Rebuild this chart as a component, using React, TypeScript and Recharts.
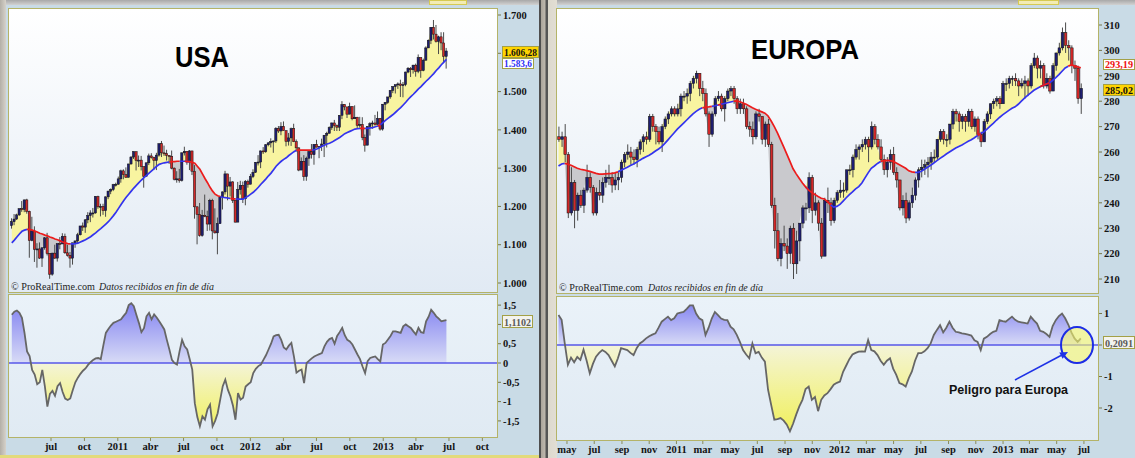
import React from 'react';
import { ComposedChart, Bar, Line, Area, XAxis, YAxis, ReferenceLine } from 'recharts';

// ---------------- USA (S&P 500, weekly, from week of 15 Mar 2010) ----------------
const usO = [1150,1160,1167,1178,1194,1192,1217,1187,1111,1136,1088,1089,1065,1092,1118,1077,1023,1078,1065,1103,1102,1122,1079,1072,1065,1105,1110,1126,1149,1146,1165,1176,1183,1183,1226,1199,1200,1189,1225,1240,1244,1257,
1258,1272,1293,1283,1276,1311,1329,1343,1320,1321,1304,1279,1314,1332,1328,1320,1334,1364,1340,1338,1333,1331,1300,1271,1272,1268,1340,1344,1316,1345,1292,1199,1179,1124,1177,1174,1154,1216,1136,1131,1155,1225,1238,1285,1253,1264,1216,1159,1244,1255,1220,1265,
1258,1278,1289,1315,1316,1345,1343,1361,1366,1370,1371,1404,1397,1409,1398,1370,1379,1403,1369,1353,1295,1318,1278,1326,1343,1335,1362,1355,1357,1363,1386,1391,1406,1418,1411,1407,1438,1466,1460,1441,1461,1429,1433,1412,1414,1380,1360,1409,1416,1418,1414,1430,
1402,1467,1472,1486,1503,1513,1518,1520,1516,1518,1551,1561,1557,1569,1553,1589,1555,1582,1614,1634,1668,1650,1631,1643,1627,1592];
const usH = [1169,1180,1181,1195,1214,1218,1220,1189,1173,1148,1104,1106,1093,1120,1131,1078,1079,1100,1103,1120,1130,1129,1100,1081,1105,1110,1131,1149,1158,1167,1185,1190,1196,1227,1228,1207,1207,1226,1241,1247,1259,1262,
1278,1296,1297,1302,1311,1331,1344,1343,1333,1332,1304,1314,1338,1339,1330,1340,1364,1371,1359,1348,1334,1346,1302,1292,1298,1341,1356,1344,1347,1345,1308,1200,1209,1191,1231,1189,1220,1220,1195,1171,1226,1239,1293,1285,1277,1266,1216,1264,1267,1265,1269,1270,
1285,1297,1316,1334,1346,1355,1363,1368,1378,1372,1407,1410,1420,1422,1398,1392,1406,1416,1375,1354,1328,1334,1330,1345,1363,1363,1374,1357,1377,1386,1395,1409,1419,1426,1414,1438,1475,1467,1460,1471,1461,1464,1434,1434,1433,1388,1409,1420,1424,1439,1448,1431,
1467,1472,1486,1503,1514,1518,1524,1531,1525,1552,1564,1564,1570,1573,1597,1589,1586,1618,1636,1668,1687,1674,1646,1655,1655,1614];
const usL = [1142,1151,1165,1175,1186,1185,1181,1066,1109,1055,1040,1063,1042,1087,1072,1011,1019,1063,1056,1088,1102,1076,1069,1040,1048,1092,1104,1124,1136,1131,1156,1159,1171,1181,1194,1174,1178,1173,1219,1232,1240,1252,
1257,1262,1271,1275,1276,1309,1324,1294,1303,1294,1249,1278,1308,1325,1295,1295,1330,1329,1332,1320,1311,1297,1268,1262,1262,1265,1333,1309,1295,1282,1168,1101,1121,1121,1172,1136,1137,1114,1129,1075,1155,1192,1231,1216,1226,1209,1158,1159,1231,1209,1203,1249,
1258,1274,1288,1307,1300,1337,1340,1357,1354,1340,1366,1392,1386,1398,1357,1359,1358,1368,1343,1292,1295,1267,1267,1306,1325,1309,1354,1326,1345,1329,1354,1391,1400,1397,1397,1397,1428,1451,1431,1441,1425,1429,1403,1406,1373,1343,1360,1385,1403,1411,1414,1398,
1398,1451,1468,1481,1496,1495,1507,1486,1485,1514,1548,1538,1547,1539,1548,1536,1553,1581,1614,1624,1636,1628,1598,1608,1577,1560];
const usC = [1160,1167,1178,1194,1192,1217,1187,1111,1136,1088,1089,1065,1092,1118,1077,1023,1078,1065,1103,1102,1122,1079,1072,1065,1105,1110,1126,1149,1146,1165,1176,1183,1183,1226,1199,1200,1189,1225,1240,1244,1257,1258,
1272,1293,1283,1276,1311,1329,1343,1320,1321,1304,1279,1314,1332,1328,1320,1334,1364,1340,1338,1333,1331,1300,1271,1272,1268,1340,1344,1316,1345,1292,1199,1179,1124,1177,1174,1154,1216,1136,1131,1155,1225,1238,1285,1253,1264,1216,1159,1244,1255,1220,1265,1258,
1278,1289,1315,1316,1345,1343,1361,1366,1370,1371,1404,1397,1409,1398,1370,1379,1403,1369,1353,1295,1318,1278,1326,1343,1335,1362,1355,1357,1363,1386,1391,1406,1418,1411,1407,1438,1466,1460,1441,1461,1429,1433,1412,1414,1380,1360,1409,1416,1418,1414,1430,1402,
1467,1472,1486,1503,1513,1518,1520,1516,1518,1551,1561,1557,1569,1553,1589,1555,1582,1614,1634,1668,1650,1631,1643,1627,1592,1606];
const usMA = [1105,1112,1120,1128,1135,1138,1140,1140,1138,1136,
1133,1130,1128,1125,1123,1120,1118,1115,1113,1110,
1107,1105,1103,1102,1102,1103,1104,1107,1110,1113,
1117,1121,1126,1131,1137,1142,1148,1154,1160,1168,
1176,1185,1195,1205,1215,1224,1232,1240,1248,1255,
1262,1269,1275,1281,1287,1293,1299,1305,1310,1312,
1314,1315,1316,1317,1317,1318,1318,1318,1318,1317,
1317,1315,1313,1305,1297,1285,1273,1262,1250,1240,
1232,1228,1226,1224,1223,1222,1221,1220,1220,1219,
1219,1219,1223,1227,1232,1237,1243,1250,1258,1265,
1272,1280,1287,1296,1305,1312,1318,1323,1327,1333,
1338,1343,1347,1347,1347,1347,1347,1347,1347,1348,
1350,1353,1357,1360,1363,1365,1368,1372,1376,1380,
1385,1390,1393,1396,1399,1402,1403,1404,1404,1404,
1404,1405,1406,1408,1410,1413,1419,1425,1430,1435,
1440,1446,1452,1458,1465,1472,1480,1487,1493,1500,
1507,1513,1520,1527,1533,1540,1547,1555,1562,1570,
1577,1584];
const usOsc = [1.25,1.33,1.36,1.3,1.17,0.78,0.3,0.18,-0.18,-0.3,
-0.55,-0.5,-0.18,-0.6,-1.13,-0.8,-0.72,-0.85,-0.6,-0.52,
-0.75,-0.92,-0.96,-0.92,-0.7,-0.5,-0.38,-0.28,-0.2,-0.14,
-0.05,0.02,0.08,0.12,0.13,0.1,0.45,0.78,0.88,0.97,
1.04,1.07,1.1,1.13,1.22,1.3,1.5,1.55,1.47,1.25,
1.04,0.8,0.9,1.21,1.3,1.13,1.26,1.18,1.08,0.98,
0.87,0.6,0.35,0.08,0,-0.04,0.3,0.6,0.43,0.35,
0.1,-0.17,-1.04,-1.4,-1.64,-1.38,-1.47,-1.2,-1.08,-1.64,
-1.5,-1.3,-0.95,-0.6,-0.43,-0.69,-0.86,-1.1,-1.47,-0.78,
-0.95,-0.9,-0.61,-0.55,-0.5,-0.26,-0.15,-0.08,-0.04,0.08,
0.2,0.35,0.5,0.69,0.72,0.73,0.6,0.4,0.35,0.45,
0.52,0.17,-0.25,-0.2,-0.17,-0.52,0,0.06,0.12,0.17,
0.2,0.23,0.26,0.43,0.55,0.62,0.65,0.5,0.7,0.8,
0.91,0.72,0.6,0.56,0.48,0.35,0.22,0.1,-0.09,-0.26,
0.05,0.13,0.15,0.17,0.1,0.04,0.48,0.52,0.61,0.7,
0.82,0.82,0.8,0.78,0.95,1.0,0.95,0.91,0.82,0.74,
0.91,0.8,0.78,1.08,1.2,1.38,1.3,1.21,1.15,1.08,
1.1,1.1102];
const usTickIdx = [15.43,28.57,41.71,54.57,67.57,80.71,93.86,106.86,119.86,133.0,146.14,159.0,172.0,185.14];
const usTickLbl = ['jul','oct','2011','abr','jul','oct','2012','abr','jul','oct','2013','abr','jul','oct'];
const usPriceTicks = [1000,1100,1200,1300,1400,1500,1600,1700];
const usOscTicks = [-1.5,-1,-0.5,0,0.5,1,1.5];

// ---------------- EUROPA (weekly, from week of 12 Apr 2010) ----------------
const euO = [266,265,266,259,236,248,237,243,239,245,
250,246,236,244,243,248,250,250,247,249,
250,256,259,260,258,257,261,264,266,265,
274,270,268,264,270,273,275,277,
275,277,282,282,283,287,289,291,285,283,
275,267,275,281,282,277,281,284,285,281,
277,279,277,270,269,266,275,274,265,271,
263,239,229,218,224,223,220,230,216,225,
232,238,238,250,237,240,232,219,241,240,233,241,
244,245,245,253,253,258,261,262,263,265,
262,270,265,262,257,253,256,259,252,249,
238,241,234,240,243,249,253,254,255,256,
258,258,265,268,265,265,271,276,275,272,
274,272,276,270,273,267,264,272,275,279,280,281,
279,287,287,289,289,288,286,287,288,286,
294,297,293,294,286,289,284,294,299,301,
307,302,301,294,293,281];
const euH = [270,268,271,260,254,249,244,245,246,255,
252,247,246,249,250,253,255,252,252,252,
257,260,263,262,261,262,265,267,268,275,
275,271,270,271,274,276,278,278,
279,283,284,285,288,290,292,291,288,285,
276,276,282,284,283,282,285,286,286,282,
281,281,278,272,272,276,277,274,272,273,
264,242,236,226,231,226,231,232,229,232,
239,240,252,251,244,241,234,242,246,242,242,245,
249,248,253,255,259,263,263,265,266,266,
272,271,267,265,259,258,261,262,254,249,
243,244,241,246,250,254,257,257,258,260,
261,265,269,269,267,271,277,277,276,275,
275,277,277,274,274,268,273,276,279,281,282,282,
288,289,290,290,291,289,289,290,289,295,
299,298,296,295,291,290,295,299,303,309,
311,304,302,296,294,287];
const euL = [264,262,256,234,235,230,233,238,236,244,
244,235,235,241,240,246,247,244,245,245,
248,254,257,255,255,254,259,260,263,264,
268,263,263,260,269,271,274,274,
274,274,280,279,280,285,287,282,280,274,
262,266,274,280,276,272,280,282,279,275,
275,275,269,266,263,265,272,263,262,262,
238,222,217,215,221,214,216,210,212,217,
230,233,236,232,235,229,218,219,236,231,232,240,
242,242,244,251,250,257,257,260,261,256,
261,263,261,256,251,250,253,251,246,237,
235,232,233,238,241,246,250,251,250,253,
256,257,264,263,262,263,269,272,268,269,
268,270,269,268,265,262,264,271,273,277,278,277,
279,284,285,286,286,282,285,281,282,285,
293,289,289,285,285,283,284,292,298,300,
299,296,291,288,279,275];
const euC = [265,266,259,236,248,237,243,239,245,250,
246,236,244,243,248,250,250,247,249,250,
256,259,260,258,257,261,264,266,265,274,
270,268,264,270,273,275,277,275,
277,282,282,283,287,289,291,285,283,275,
267,275,281,282,277,281,284,285,281,277,
279,277,270,269,266,275,274,265,271,263,
239,229,218,224,223,220,230,216,225,232,
238,238,250,237,240,232,219,241,240,233,241,244,
245,245,253,253,258,261,262,263,265,262,
270,265,262,257,253,256,259,252,249,238,
241,234,240,243,249,253,254,255,256,258,
258,265,268,265,265,271,276,275,272,274,
272,276,270,273,267,264,272,275,279,280,281,279,
287,287,289,289,288,286,287,288,286,294,
297,293,294,286,289,284,294,299,301,307,
302,301,294,293,281,285.02];
const euMA = [254.5,255.3,255.5,255.2,254.8,254.2,253.6,253.2,253,252.7,
252.4,252,251.6,251.3,251.3,251.4,251.5,251.6,251.8,252.2,
252.8,253.4,254,254.7,255.3,256,256.8,257.5,258.1,258.7,
259.5,260.4,261.2,262.1,263.4,264.8,266.2,267.6,
269,270.2,271.4,272.6,273.8,275,276,276.8,277.4,277.7,
277.8,278,278.2,278.5,278.8,279.1,279.4,279.7,280,280.1,
279.8,279.3,278.8,278.1,277.4,276.8,276.3,275.8,275.3,274.2,
272.2,270,267.5,264.8,262,259.2,256.3,253.4,251.4,249.6,
247.8,246.3,245,244,243.3,242.5,241.8,241.5,240.5,239.2,238.3,238.6,
239.4,240.7,242,243.2,244.3,245.5,246.4,247.8,249.8,251.8,
253.6,254.5,255.5,256.3,256.6,256.7,256.6,256.3,255.7,255,
254.3,253.6,252.6,252.2,252,252,252.4,253.2,254,254.8,
255.7,256.6,257.5,258.3,259.2,260,260.8,261.6,262.2,262.8,
263.5,264.2,264.8,265.6,266.5,267.3,268,269,270.2,271.3,272.5,273.6,
274.6,275.5,276.4,277.2,277.8,278.8,280,281.2,282.3,283.3,
284.3,285,285.7,286.3,286.8,287.2,288.2,289.3,290.5,291.8,
293.1,293.8,294.3,293.9,293.5,293.19];
const euOsc = [0.95,0.8,0.05,-0.63,-0.4,-0.55,-0.38,-0.47,-0.15,-0.5,
-0.9,-0.6,-0.37,-0.25,-0.16,-0.22,-0.32,-0.5,-0.68,-0.42,
-0.1,-0.13,-0.16,-0.25,-0.32,-0.1,0.05,0.12,0.21,0.28,
0.33,0.37,0.55,0.74,0.82,0.9,0.79,0.85,1.0,1.03,
1.05,1.15,1.26,1.26,1.0,0.85,0.79,0.32,0.55,0.84,
1.05,0.95,0.84,0.8,0.79,0.58,0.5,0.32,0.1,-0.16,
-0.3,-0.42,0.05,-0.26,-0.22,-0.4,-0.53,-1.42,-1.9,-2.37,
-2.35,-2.32,-2.4,-2.53,-2.74,-2.5,-2.21,-1.95,-1.74,-1.4,
-1.32,-1.74,-1.65,-2.1,-1.74,-1.6,-1.53,-1.4,-1.26,-1.2,
-1.16,-0.85,-0.65,-0.45,-0.3,-0.25,-0.21,-0.2,-0.21,0.16,
-0.16,-0.2,-0.32,-0.5,-0.63,-0.5,-0.42,-0.75,-0.95,-1.21,
-1.25,-1.32,-1.05,-0.84,-0.5,-0.26,-0.26,-0.2,-0.1,0.05,
0.32,0.48,0.63,0.4,0.55,0.74,0.55,0.42,0.4,0.37,
0.35,0.33,0.3,0.15,0.1,-0.16,0.2,0.26,0.35,0.42,
0.45,0.79,0.76,0.74,0.82,0.9,0.8,0.74,0.72,0.7,
0.68,0.9,0.78,0.68,0.45,0.42,0.35,0.26,0.6,0.79,
0.92,1.0,0.85,0.65,0.4,0.21,0.1,0.2091];
const euTickIdx = [2.71,11.43,20.29,29.0,37.71,46.14,54.86,63.57,72.43,81.14,89.86,98.43,107.14,115.86,124.71,133.43,142.14,150.57,159.29,168.0];
const euTickLbl = ['may','jul','sep','nov','2011','mar','may','jul','sep','nov','2012','mar','may','jul','sep','nov','2013','mar','may','jul'];
const euPriceTicks = [210,220,230,240,250,260,270,280,290,300,310];
const euOscTicks = [-2,-1,0,1];

// tick labels that the value boxes cover completely in the original
const usHiddenPrice = [1600];
const usHiddenOsc = [1];
const euHiddenOsc = [0];

// ---------------- helpers ----------------
const SERIF = '"Liberation Serif", "Times New Roman", serif';
const SANS = '"Liberation Sans", Arial, sans-serif';
const TICK = { fill: '#141414', fontSize: 10.5, fontFamily: SERIF, fontWeight: 700 };

function priceRows(O: number[], H: number[], L: number[], C: number[], MA: number[]) {
  const up = C.map((c, i) => c >= MA[i]);
  const n = C.length;
  return C.map((c, i) => {
    const ma = MA[i];
    const nextUp = i + 1 < n ? up[i + 1] : up[i];
    return {
      i, o: O[i], h: H[i], l: L[i], c, ma,
      hl: [L[i], H[i]],
      yel: up[i] ? [ma, c] : [ma, ma],
      gry: up[i] ? [ma, ma] : [c, ma],
      maB: up[i] || nextUp ? ma : null,
      maR: !up[i] || !nextUp ? ma : null,
    };
  });
}
function oscRows(V: number[]) {
  return V.map((v, i) => ({ i, v, p: v > 0 ? v : 0, n: v < 0 ? v : 0 }));
}

function makeCandle(bodyW: number) {
  return (props: any) => {
    const { x, y, width, height, payload } = props;
    if (x == null || y == null || !payload) return <g />;
    const cx = x + width / 2;
    const top = Math.min(y, y + height);
    const bot = Math.max(y, y + height);
    const { o, h, l, c } = payload;
    const span = h - l || 1;
    const py = (v: number) => top + ((h - v) / span) * (bot - top);
    const yO = py(o), yC = py(c);
    const bTop = Math.min(yO, yC);
    const bH = Math.max(Math.abs(yC - yO), 1);
    return (
      <g>
        <line x1={cx} x2={cx} y1={top} y2={bot} stroke="#4a4a4a" strokeWidth={1} />
        <rect x={cx - bodyW / 2} y={bTop} width={bodyW} height={bH}
          fill={c >= o ? '#1e1e72' : '#d22828'} stroke="#111" strokeWidth={0.5} />
      </g>
    );
  };
}

function PriceChart(p: any) {
  return (
    <ComposedChart width={p.width} height={p.height} data={p.rows} margin={p.margin}>
      <XAxis type="number" dataKey="i" domain={p.xDomain} hide allowDataOverflow />
      <YAxis orientation="right" type="number" domain={p.yDomain} ticks={p.yTicks} interval={0}
        allowDataOverflow width={p.yAxisW} axisLine={false} tickLine={{ stroke: '#77774a' }}
        tickSize={4} tickMargin={2} tick={TICK} tickFormatter={p.yFmt} />
      <Area dataKey="yel" type="linear" stroke="none" fill="#f8f4a0" fillOpacity={1} isAnimationActive={false} />
      <Area dataKey="gry" type="linear" stroke="none" fill="#c9c9cd" fillOpacity={1} isAnimationActive={false} />
      <Line dataKey="maB" type="linear" stroke="#3434ee" strokeWidth={1.7} dot={false} connectNulls={false} isAnimationActive={false} />
      <Line dataKey="maR" type="linear" stroke="#ec1c1c" strokeWidth={1.7} dot={false} connectNulls={false} isAnimationActive={false} />
      <Bar dataKey="hl" barSize={2} shape={makeCandle(p.bodyW)} isAnimationActive={false} />
    </ComposedChart>
  );
}

function OscChart(p: any) {
  return (
    <ComposedChart width={p.width} height={p.height} data={p.rows} margin={p.margin}>
      <defs>
        <linearGradient id={p.gid + 'p'} gradientUnits="userSpaceOnUse" x1="0" y1={p.topY} x2="0" y2={p.zeroY}>
          <stop offset="0" stopColor="#7676f0" />
          <stop offset="1" stopColor="#d8dbf6" />
        </linearGradient>
        <linearGradient id={p.gid + 'n'} gradientUnits="userSpaceOnUse" x1="0" y1={p.zeroY} x2="0" y2={p.botY}>
          <stop offset="0" stopColor="#f4f4d8" />
          <stop offset="1" stopColor="#f0f050" />
        </linearGradient>
      </defs>
      <XAxis type="number" dataKey="i" domain={p.xDomain} ticks={p.xTicks} interval={0} allowDataOverflow
        height={p.xAxisH} axisLine={false} tickLine={{ stroke: '#8a8a5a' }} tickSize={4} tickMargin={2}
        tick={TICK} tickFormatter={(v: number) => p.xLabels[p.xTicks.indexOf(v)] ?? ''} />
      <YAxis orientation="right" type="number" domain={p.yDomain} ticks={p.yTicks} interval={0}
        allowDataOverflow width={p.yAxisW} axisLine={false} tickLine={{ stroke: '#77774a' }}
        tickSize={4} tickMargin={2} tick={TICK}
        tickFormatter={(v: number) => (p.hidden.includes(v) ? '' : String(v).replace('.', ','))} />
      <Area dataKey="p" type="linear" baseValue={0} stroke="none" fill={`url(#${p.gid}p)`} fillOpacity={1} isAnimationActive={false} />
      <Area dataKey="n" type="linear" baseValue={0} stroke="none" fill={`url(#${p.gid}n)`} fillOpacity={1} isAnimationActive={false} />
      <ReferenceLine y={0} stroke="#5757e8" strokeWidth={1.3} />
      <Line dataKey="v" type="linear" stroke="#666666" strokeWidth={1.8} dot={false} isAnimationActive={false} />
    </ComposedChart>
  );
}

const abs = (l: number, t: number, w: number, h: number, extra: any = {}) =>
  ({ position: 'absolute' as const, left: l, top: t, width: w, height: h, ...extra });

function ValBox({ x, y, w, h, bg, color, text, fs = 10.5 }: any) {
  return (
    <g>
      <rect x={x + 0.5} y={y + 0.5} width={w} height={h} fill={bg} stroke="#a3a046" strokeWidth={1} />
      <text x={x + 2} y={y + h - 1.5} fontSize={fs} fontWeight={700} fontFamily={SERIF} fill={color}
        textLength={w - 3} lengthAdjust="spacingAndGlyphs">{text}</text>
    </g>
  );
}

export default function App() {
  const usRows = priceRows(usO, usH, usL, usC, usMA);
  const euRows = priceRows(euO, euH, euL, euC, euMA);
  const usORows = oscRows(usOsc);
  const euORows = oscRows(euOsc);
  const BORDER = '1px solid #b4b368';
  return (
    <div style={{ position: 'fixed', left: 0, top: 0, width: 1135, height: 458, overflow: 'hidden', background: '#c9dbe6' }}>
      {/* frame decoration */}
      <div style={abs(0, 0, 1135, 5, { background: 'linear-gradient(#a8a8a8,#d2d2d2)' })} />
      <div style={abs(0, 0, 6, 458, { background: 'linear-gradient(90deg,#b3afa7,#d6d2ca)' })} />
      <div style={abs(0, 455, 539, 3, { background: '#e2da7c' })} />
      <div style={abs(539, 0, 18, 458, { background: 'linear-gradient(90deg,#4e4e4e 0,#4e4e4e 2px,#aaa49a 2px,#bdb7ad 6px,#555 7px,#555 9px,#ddd9ce 9px,#e2ded4 18px)' })} />
      {/* plot backgrounds */}
      <div style={abs(9, 9, 488, 283, { background: 'linear-gradient(#ffffff,#e1eaf4)' })} />
      <div style={abs(9, 295, 488, 142, { background: 'linear-gradient(#eaf2f9,#e0eaf3)' })} />
      <div style={abs(557, 9, 541, 284, { background: 'linear-gradient(#ffffff,#e1eaf4)' })} />
      <div style={abs(557, 297, 541, 143, { background: 'linear-gradient(#eaf2f9,#e0eaf3)' })} />

      <div style={abs(0, 0, 540, 294)}>
        <PriceChart rows={usRows} width={540} height={294} margin={{ top: 9, right: 3, bottom: 2, left: 9 }}
          xDomain={[-1.1, 190.9]} yDomain={[976.5, 1715.7]} yTicks={usPriceTicks} yAxisW={40}
          yFmt={(v: number) => (usHiddenPrice.includes(v) ? '' : (v / 1000).toFixed(3))} bodyW={2.2} />
      </div>
      <div style={abs(0, 293, 540, 165)}>
        <OscChart rows={usORows} width={540} height={165} margin={{ top: 2, right: 3, bottom: 0, left: 9 }}
          xDomain={[-1.1, 190.9]} xTicks={usTickIdx} xLabels={usTickLbl} xAxisH={21} hidden={usHiddenOsc}
          yDomain={[-1.917, 1.762]} yTicks={usOscTicks} yAxisW={40} gid="usg" topY={2} zeroY={70} botY={144} />
      </div>
      <div style={abs(550, 0, 585, 295)}>
        <PriceChart rows={euRows} width={585} height={295} margin={{ top: 9, right: 2, bottom: 2, left: 7 }}
          xDomain={[-0.48, 172.5]} yDomain={[204.5, 316.3]} yTicks={euPriceTicks} yAxisW={35}
          yFmt={(v: number) => String(v)} bodyW={2.6} />
      </div>
      <div style={abs(550, 295, 585, 163)}>
        <OscChart rows={euORows} width={585} height={163} margin={{ top: 2, right: 2, bottom: 0, left: 7 }}
          xDomain={[-0.48, 172.5]} xTicks={euTickIdx} xLabels={euTickLbl} xAxisH={18} hidden={euHiddenOsc}
          yDomain={[-3.016, 1.524]} yTicks={euOscTicks} yAxisW={35} gid="eug" topY={2} zeroY={50} botY={145} />
      </div>

      {/* plot borders */}
      <div style={abs(8, 8, 490, 285, { border: BORDER, boxSizing: 'border-box' })} />
      <div style={abs(8, 294, 490, 144, { border: BORDER, boxSizing: 'border-box' })} />
      <div style={abs(556, 8, 543, 286, { border: BORDER, boxSizing: 'border-box' })} />
      <div style={abs(556, 296, 543, 145, { border: BORDER, boxSizing: 'border-box' })} />

      <svg width={1135} height={458} style={{ position: 'absolute', left: 0, top: 0, pointerEvents: 'none' }}>
        <rect x={429.5} y={0.5} width={37} height={4} fill="#f2ecb4" stroke="#d6ca52" />
        <rect x={1018.5} y={0.5} width={40} height={4} fill="#f2ecb4" stroke="#d6ca52" />

        <text x={175} y={67} fontSize={30} fontWeight={700} fontFamily={SANS} fill="#000" textLength={54} lengthAdjust="spacingAndGlyphs">USA</text>
        <text x={751} y={59} fontSize={28} fontWeight={700} fontFamily={SANS} fill="#000" textLength={108} lengthAdjust="spacingAndGlyphs">EUROPA</text>

        <text x={11} y={290} fontSize={11} fontFamily={SERIF} fill="#1e1e1e" textLength={84} lengthAdjust="spacingAndGlyphs">© ProRealTime.com</text>
        <text x={99} y={290} fontSize={11} fontFamily={SERIF} fontStyle="italic" fill="#1e1e1e" textLength={115} lengthAdjust="spacingAndGlyphs">Datos recibidos en fin de día</text>
        <text x={559} y={291} fontSize={11} fontFamily={SERIF} fill="#1e1e1e" textLength={84} lengthAdjust="spacingAndGlyphs">© ProRealTime.com</text>
        <text x={648} y={291} fontSize={11} fontFamily={SERIF} fontStyle="italic" fill="#1e1e1e" textLength={115} lengthAdjust="spacingAndGlyphs">Datos recibidos en fin de día</text>

        <ValBox x={502} y={58} w={31} h={10} bg="#ffffff" color="#2f2ff5" text="1.583,6" fs={9.5} />
        <ValBox x={502} y={46} w={36} h={11} bg="#ffd400" color="#111" text="1.606,28" />
        <ValBox x={502} y={315} w={30} h={12} bg="#f3f3ee" color="#5a5a5a" text="1,1102" />
        <ValBox x={1103} y={59} w={31} h={10} bg="#ffffff" color="#ee1111" text="293,19" fs={10} />
        <ValBox x={1103} y={84} w={31} h={11} bg="#ffd400" color="#111" text="285,02" />
        <ValBox x={1103} y={336} w={31} h={12} bg="#f3f3ee" color="#5a5a5a" text="0,2091" />

        <ellipse cx={1077} cy={345} rx={16} ry={18} fill="#f6f66a" fillOpacity={0.6} stroke="#1c2ce6" strokeWidth={2} />
        <line x1={1015} y1={380} x2={1061} y2={355.5} stroke="#1e32e6" strokeWidth={1.6} />
        <polygon points="1068,352 1062.6,358.8 1059.3,352.6" fill="#1e32e6" />
        <text x={949} y={394} fontSize={12} fontWeight={700} fontFamily={SANS} fill="#111" textLength={119} lengthAdjust="spacingAndGlyphs">Peligro para Europa</text>
      </svg>
    </div>
  );
}
